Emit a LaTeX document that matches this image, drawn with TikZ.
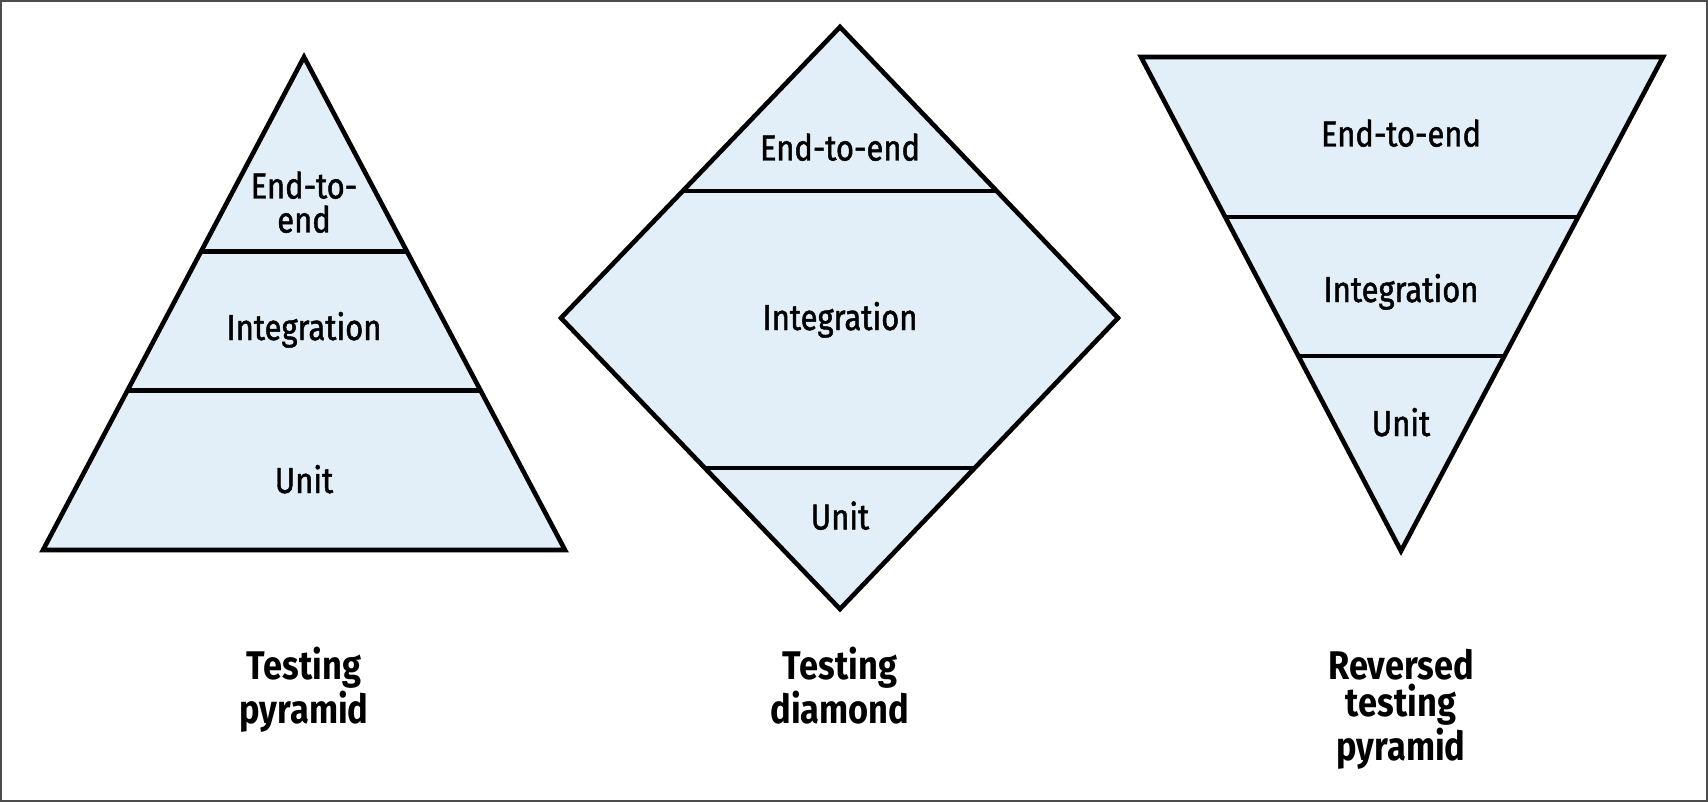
\documentclass[tikz,border=0pt]{standalone}
\usepackage{fontspec}
\usepackage{tikz}
\newfontfamily\layerfont[FakeStretch=0.86,FakeBold=1.3]{Fira Sans}
\newfontfamily\namefont[FakeStretch=0.86]{Fira Sans}
\usetikzlibrary{calc,positioning}
\definecolor{layerblue}{RGB}{226,239,248}
\tikzstyle{block}   = [draw=black, fill=layerblue, line width=2.3pt]
\tikzstyle{divider} = [draw=black, line width=2.3pt]
\tikzstyle{lbl}     = [font=\layerfont\fontsize{18}{17}\selectfont, align=center, inner sep=0pt, anchor=base]
\tikzstyle{heading} = [font=\namefont\bfseries\fontsize{20}{18.5}\selectfont, align=center, inner sep=0pt, anchor=base]

\begin{document}
\begin{tikzpicture}[x=0.5pt,y=-0.5pt]
		\useasboundingbox (0,0) rectangle (1708,802);
		\draw[gray!60!black, line width=1pt] (1,1) rectangle (1707,801);

		% testing pyramid
		\filldraw[block] (304,57) -- (565,550) -- (43,550) -- cycle;
		\draw[divider] (201,251.5) -- (407,251.5);
		\draw[divider] (127.5,390.5) -- (480.5,390.5);

		\node[lbl] (pyrE2E) at (304,232.5) {End-to-\\end};
		\node[lbl] (pyrInt) at (304,340) {Integration};
		\node[lbl] (pyrUnit) at (304,493) {Unit};

		% testing diamond
		\filldraw[block] (840,27) -- (1118,318) -- (840,609) -- (561,318) -- cycle;
		\draw[divider] (683,191) -- (997,191);
		\draw[divider] (705,468) -- (975,468);

		\node[lbl] (diaE2E) at (840,160.5) {End-to-end};
		\node[lbl] (diaInt) at (840,330) {Integration};
		\node[lbl] (diaUnit) at (840,529.5) {Unit};

		% reversed pyramid
		\filldraw[block] (1141,57) -- (1663,57) -- (1401,551) -- cycle;
		\draw[divider] (1224.5,217) -- (1577.5,217);
		\draw[divider] (1298,356) -- (1504,356);

		\node[lbl] (revE2E) at (1401,146.5) {End-to-end};
		\node[lbl] (revInt) at (1401,302) {Integration};
		\node[lbl] (revUnit) at (1401,436) {Unit};

		% captions
		\node[heading] (pyrName) at (304,723) {Testing\\pyramid};
		\node[heading] (diaName) at (840,723) {Testing\\diamond};
		\node[heading] (revName) at (1401,760) {Reversed\\testing\\pyramid};
	\end{tikzpicture}
\end{document}
